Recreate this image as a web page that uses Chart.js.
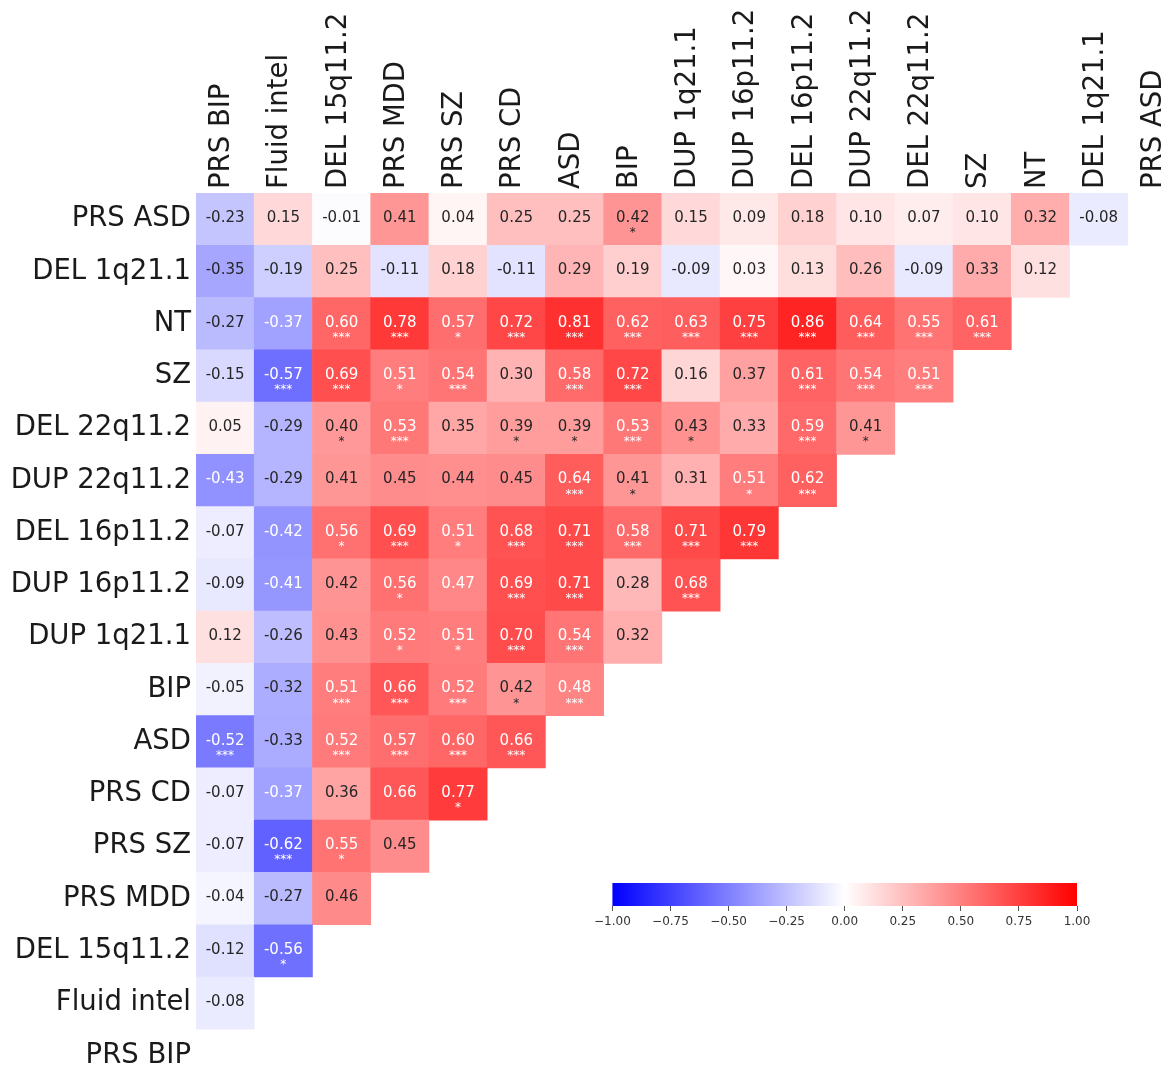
<!DOCTYPE html>
<html>
<head>
<meta charset="utf-8">
<script src="https://cdn.jsdelivr.net/npm/chart.js@4.4.0/dist/chart.umd.min.js"></script>
<style>
  body { margin: 0; background: #fff; overflow: hidden; }
  #wrap { position: relative; width: 1168px; height: 1068px; overflow: hidden; }
  #heatChart { position: absolute; left: 0; top: 0; }
  #barChart { position: absolute; left: 590px; top: 875px; }
</style>
</head>
<body>
<div id="wrap">
  <canvas id="heatChart" width="1186" height="1095"></canvas>
  <canvas id="barChart" width="510" height="55"></canvas>
</div>
<script>
const rowLabels = ['PRS ASD', 'DEL 1q21.1', 'NT', 'SZ', 'DEL 22q11.2', 'DUP 22q11.2', 'DEL 16p11.2',
    'DUP 16p11.2', 'DUP 1q21.1', 'BIP', 'ASD', 'PRS CD', 'PRS SZ', 'PRS MDD', 'DEL 15q11.2', 'Fluid intel', 'PRS BIP'];
const colLabels = ['PRS BIP', 'Fluid intel', 'DEL 15q11.2', 'PRS MDD', 'PRS SZ', 'PRS CD', 'ASD', 'BIP',
    'DUP 1q21.1', 'DUP 16p11.2', 'DEL 16p11.2', 'DUP 22q11.2', 'DEL 22q11.2', 'SZ', 'NT', 'DEL 1q21.1', 'PRS ASD'];

// one row per rowLabels entry, values left to right
const corr = [
    [-0.23, 0.15, -0.01, 0.41, 0.04, 0.25, 0.25, 0.42, 0.15, 0.09, 0.18, 0.10, 0.07, 0.10, 0.32, -0.08],
    [-0.35, -0.19, 0.25, -0.11, 0.18, -0.11, 0.29, 0.19, -0.09, 0.03, 0.13, 0.26, -0.09, 0.33, 0.12],
    [-0.27, -0.37, 0.60, 0.78, 0.57, 0.72, 0.81, 0.62, 0.63, 0.75, 0.86, 0.64, 0.55, 0.61],
    [-0.15, -0.57, 0.69, 0.51, 0.54, 0.30, 0.58, 0.72, 0.16, 0.37, 0.61, 0.54, 0.51],
    [0.05, -0.29, 0.40, 0.53, 0.35, 0.39, 0.39, 0.53, 0.43, 0.33, 0.59, 0.41],
    [-0.43, -0.29, 0.41, 0.45, 0.44, 0.45, 0.64, 0.41, 0.31, 0.51, 0.62],
    [-0.07, -0.42, 0.56, 0.69, 0.51, 0.68, 0.71, 0.58, 0.71, 0.79],
    [-0.09, -0.41, 0.42, 0.56, 0.47, 0.69, 0.71, 0.28, 0.68],
    [0.12, -0.26, 0.43, 0.52, 0.51, 0.70, 0.54, 0.32],
    [-0.05, -0.32, 0.51, 0.66, 0.52, 0.42, 0.48],
    [-0.52, -0.33, 0.52, 0.57, 0.60, 0.66],
    [-0.07, -0.37, 0.36, 0.66, 0.77],
    [-0.07, -0.62, 0.55, 0.45],
    [-0.04, -0.27, 0.46],
    [-0.12, -0.56],
    [-0.08],
    []
];
const stars = [
    ['', '', '', '', '', '', '', '*', '', '', '', '', '', '', '', ''],
    ['', '', '', '', '', '', '', '', '', '', '', '', '', '', ''],
    ['', '', '***', '***', '*', '***', '***', '***', '***', '***', '***', '***', '***', '***'],
    ['', '***', '***', '*', '***', '', '***', '***', '', '', '***', '***', '***'],
    ['', '', '*', '***', '', '*', '*', '***', '*', '', '***', '*'],
    ['', '', '', '', '', '', '***', '*', '', '*', '***'],
    ['', '', '*', '***', '*', '***', '***', '***', '***', '***'],
    ['', '', '', '*', '', '***', '***', '', '***'],
    ['', '', '', '*', '*', '***', '***', ''],
    ['', '', '***', '***', '***', '*', '***'],
    ['***', '', '***', '***', '***', '***'],
    ['', '', '', '', '*'],
    ['', '***', '*', ''],
    ['', '', ''],
    ['', '*'],
    [''],
    []
];
const cbarTicks = [-1, -0.75, -0.5, -0.25, 0, 0.25, 0.5, 0.75, 1];

const labelFont = {family: 'DejaVu Sans', size: 27.5};

// matplotlib "bwr" colormap
function bwr(v) {
    let t = (v + 1) / 2;
    if (t < 0.5) {
        let k = Math.round(510 * t);
        return [k, k, 255];
    }
    let k = Math.round(510 * (1 - t));
    return [255, k, k];
}

function textColor(v) {
    let l = bwr(v).map(c => {
        c = c / 255;
        return c <= 0.03928 ? c / 12.92 : Math.pow((c + 0.055) / 1.055, 2.4);
    });
    let lum = 0.2126 * l[0] + 0.7152 * l[1] + 0.0722 * l[2];
    return lum < 0.408 ? '#ffffff' : '#262626';
}

let cells = [];
corr.forEach((row, r) => {
    row.forEach((v, c) => {
        cells.push({x: colLabels[c], y: [r - 0.5, r + 0.5], v: v, s: stars[r][c]});
    });
});

const cellText = {
    id: 'cellText',
    afterDatasetsDraw(chart) {
        let ctx = chart.ctx;
        let meta = chart.getDatasetMeta(0);
        let data = chart.data.datasets[0].data;
        ctx.save();
        ctx.textAlign = 'center';
        ctx.textBaseline = 'middle';
        meta.data.forEach((bar, i) => {
            let d = data[i];
            let cy = (bar.y + bar.base) / 2;
            ctx.fillStyle = textColor(d.v);
            ctx.font = '15px "DejaVu Sans"';
            ctx.fillText(d.v.toFixed(2), bar.x, cy - 1);
            if (d.s) {
                ctx.font = '12px "DejaVu Sans"';
                ctx.fillText(d.s, bar.x, cy + 14);
            }
        });
        ctx.restore();
    }
};

let ctxHeat = document.getElementById('heatChart');
let heatChart = new Chart(ctxHeat, {
    type: 'bar',
    data: {
        labels: colLabels,
        datasets: [{
            data: cells,
            backgroundColor: c => {
                let rgb = bwr(c.raw ? c.raw.v : 0);
                return 'rgb(' + rgb.join(',') + ')';
            },
            borderWidth: 0,
            barPercentage: 1,
            categoryPercentage: 1
        }]
    },
    options: {
        responsive: false,
        animation: false,
        events: [],
        layout: {padding: 0},
        plugins: {
            legend: {display: false},
            tooltip: {enabled: false}
        },
        scales: {
            x: {
                type: 'category',
                position: 'top',
                grid: {display: false},
                border: {display: false},
                ticks: {
                    autoSkip: false,
                    minRotation: 90,
                    maxRotation: 90,
                    padding: -4,
                    labelOffset: 30,
                    color: '#1a1a1a',
                    font: labelFont
                },
                afterFit: s => { s.height = 193; }
            },
            y: {
                type: 'linear',
                reverse: true,
                min: -0.5,
                max: 16.5,
                grid: {display: false},
                border: {display: false},
                afterBuildTicks: s => { s.ticks = rowLabels.map((l, i) => ({value: i})); },
                ticks: {
                    padding: -3,
                    color: '#1a1a1a',
                    font: labelFont,
                    callback: v => rowLabels[v]
                },
                afterFit: s => { s.width = 196; }
            }
        }
    },
    plugins: [cellText]
});

let ctxBar = document.getElementById('barChart');
let barChart = new Chart(ctxBar, {
    type: 'bar',
    data: {
        labels: [''],
        datasets: [{
            data: [[cbarTicks[0], cbarTicks[cbarTicks.length - 1]]],
            backgroundColor: c => {
                let a = c.chart.chartArea;
                if (!a) return '#ffffff';
                let g = c.chart.ctx.createLinearGradient(a.left, 0, a.right, 0);
                g.addColorStop(0, 'rgb(0,0,255)');
                g.addColorStop(0.5, 'rgb(255,255,255)');
                g.addColorStop(1, 'rgb(255,0,0)');
                return g;
            },
            borderWidth: 0,
            barPercentage: 1,
            categoryPercentage: 1
        }]
    },
    options: {
        indexAxis: 'y',
        responsive: false,
        animation: false,
        events: [],
        layout: {padding: {left: 20, right: 23, top: 8, bottom: 0}},
        plugins: {
            legend: {display: false},
            tooltip: {enabled: false}
        },
        scales: {
            x: {
                type: 'linear',
                min: -1,
                max: 1,
                afterBuildTicks: s => { s.ticks = cbarTicks.map(v => ({value: v})); },
                grid: {drawOnChartArea: false, drawTicks: true, tickLength: 5, color: '#555'},
                border: {display: false},
                ticks: {
                    padding: 4,
                    color: '#333',
                    font: {family: 'DejaVu Sans', size: 12},
                    callback: v => (v < 0 ? '\u2212' : '') + Math.abs(v).toFixed(2)
                },
                afterFit: s => { s.height = 24; }
            },
            y: {display: false}
        }
    }
});
</script>
</body>
</html>
